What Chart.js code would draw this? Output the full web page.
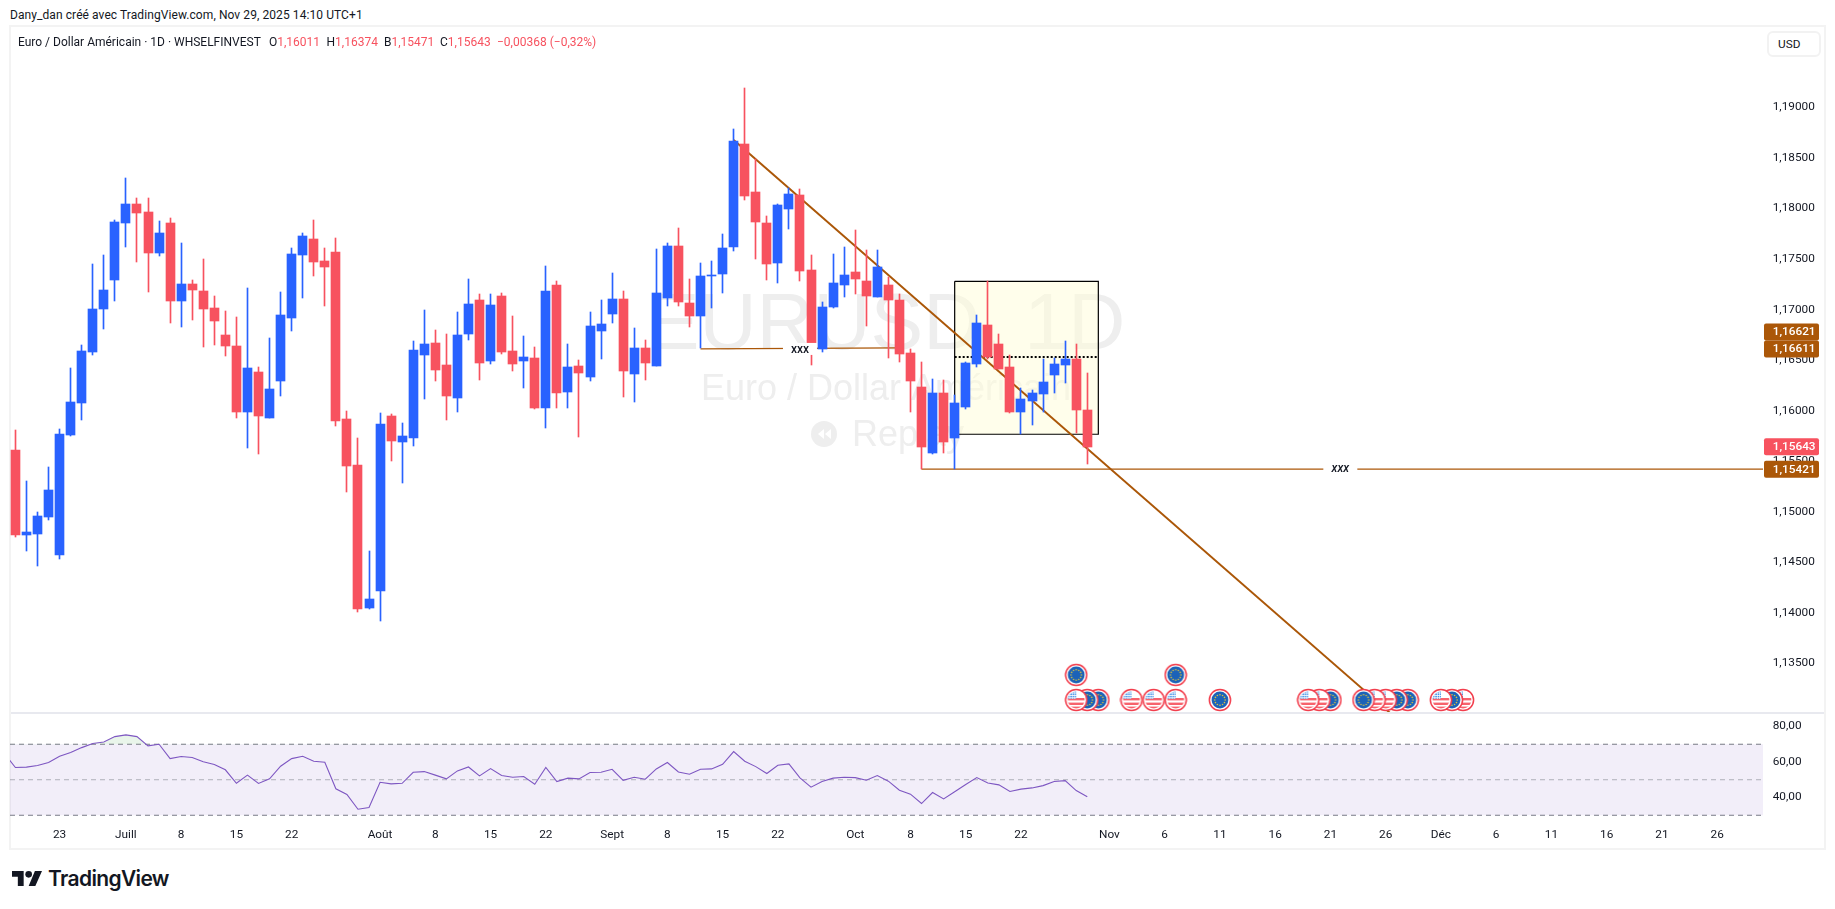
<!DOCTYPE html>
<html lang="fr">
<head>
<meta charset="utf-8">
<title>EURUSD</title>
<script src="https://cdn.jsdelivr.net/npm/chart.js@4"></script>
<style>
html,body{margin:0;padding:0;background:#fff;width:1835px;height:909px;overflow:hidden}
body{position:relative;font-family:Roboto,sans-serif;color:#131722}
canvas{position:absolute;display:block}
.t{position:absolute;white-space:pre;font-size:12px;line-height:14px}
.r{color:#f7525f}
#pane{position:absolute;left:9px;top:25px;width:1817px;height:825px;border:2px solid #f3f3f3;box-sizing:border-box}
#sep{position:absolute;left:11px;top:712px;width:1813px;height:2px;background:#e8e9ef}
#usd{position:absolute;left:1767px;top:31px;width:54px;height:26px;box-sizing:border-box;background:#fff;border:2px solid #f2f2f2;border-radius:6px;font-size:11.8px;line-height:22px;text-align:left;padding-left:9px;z-index:5}
#logo{position:absolute;left:12px;top:871px}
#brand{position:absolute;left:48px;top:866px;font:600 21px/26px Inter,sans-serif;letter-spacing:-.65px;color:#131722}
</style>
</head>
<body>
<div id="pane"></div>
<canvas id="main" width="1814" height="687" style="left:10px;top:26px"></canvas>
<canvas id="rsi" width="1814" height="135" style="left:10px;top:713px"></canvas>
<div id="sep"></div>
<div class="t" style="left:10px;top:8px;letter-spacing:.08px">Dany_dan créé avec TradingView.com, Nov 29, 2025 14:10 UTC+1</div>
<div class="t" style="left:18px;top:35px">Euro / Dollar Américain · 1D · WHSELFINVEST</div>
<div class="t" style="left:269px;top:35px">O<span class="r">1,16011</span></div>
<div class="t" style="left:326.5px;top:35px">H<span class="r">1,16374</span></div>
<div class="t" style="left:384px;top:35px">B<span class="r">1,15471</span></div>
<div class="t" style="left:440px;top:35px">C<span class="r">1,15643</span></div>
<div class="t r" style="left:497px;top:35px">−0,00368 (−0,32%)</div>
<div id="usd">USD</div>
<svg id="logo" width="30" height="15" viewBox="0 0 36 18"><path fill="#131722" d="M14 18H7V7H0V0h14v18zM28 18h-8L27.5 0H36L28 18z"/><circle fill="#131722" cx="20" cy="4" r="4"/></svg>
<div id="brand">TradingView</div>
<script>
// ---- data ----
const opens = [1.15611,1.14771,1.14781,1.14949,1.14573,1.15760,1.16076,1.16581,1.17006,1.17294,1.17857,1.18045,1.17966,1.17561,1.17857,1.17085,1.17254,1.17185,1.17016,1.16749,1.16640,1.15987,1.16383,1.15928,1.16294,1.16917,1.17541,1.17699,1.17482,1.17570,1.15918,1.15463,1.14048,1.14216,1.15948,1.15690,1.15730,1.16551,1.16670,1.16452,1.16125,1.16759,1.17095,1.16492,1.17135,1.16591,1.16492,1.16521,1.16026,1.17244,1.16185,1.16442,1.16334,1.16788,1.16957,1.17105,1.16363,1.16620,1.16442,1.17115,1.17630,1.17066,1.16937,1.17333,1.17353,1.17620,1.18639,1.18164,1.17857,1.17462,1.17996,1.18134,1.17392,1.16611,1.17026,1.17244,1.17373,1.17284,1.17125,1.17244,1.17095,1.16571,1.16234,1.15582,1.16175,1.15730,1.16036,1.16462,1.16848,1.16660,1.16432,1.15987,1.16096,1.16165,1.16353,1.16452,1.16511,1.16011];
const highs = [1.15809,1.15305,1.14998,1.15443,1.15819,1.16422,1.16650,1.17452,1.17541,1.17887,1.18303,1.18105,1.18105,1.17877,1.17907,1.17660,1.17294,1.17501,1.17135,1.16986,1.16927,1.17214,1.16432,1.16719,1.17175,1.17610,1.17758,1.17887,1.17610,1.17709,1.15997,1.15730,1.14613,1.15977,1.15967,1.15878,1.16689,1.16996,1.16798,1.16759,1.16976,1.17303,1.17155,1.17155,1.17165,1.16937,1.16739,1.16630,1.17432,1.17284,1.16660,1.16502,1.16976,1.17095,1.17363,1.17185,1.16818,1.16699,1.17600,1.17660,1.17808,1.17303,1.17462,1.17482,1.17748,1.18787,1.19193,1.18491,1.17927,1.18045,1.18204,1.18194,1.17541,1.17075,1.17551,1.17620,1.17788,1.17590,1.17590,1.17323,1.17155,1.16611,1.16482,1.16314,1.16304,1.16155,1.16482,1.16947,1.17284,1.16759,1.16551,1.16224,1.16205,1.16511,1.16521,1.16689,1.16660,1.16374];
const lows = [1.14751,1.14613,1.14464,1.14919,1.14533,1.15750,1.15908,1.16551,1.16808,1.17085,1.17620,1.17472,1.17175,1.17531,1.16867,1.16828,1.16897,1.16630,1.16650,1.16541,1.15928,1.15631,1.15572,1.15928,1.16145,1.16788,1.17115,1.17333,1.17036,1.15849,1.15196,1.14008,1.14038,1.13919,1.15502,1.15284,1.15651,1.16116,1.16294,1.15908,1.15987,1.16699,1.16304,1.16462,1.16561,1.16393,1.16224,1.16016,1.15829,1.16026,1.16026,1.15740,1.16294,1.16511,1.16867,1.16135,1.16086,1.16304,1.16442,1.17036,1.17036,1.16828,1.16620,1.17016,1.17165,1.17580,1.18085,1.17501,1.17294,1.17264,1.17798,1.17284,1.16452,1.16581,1.17016,1.17125,1.17155,1.16838,1.17125,1.16521,1.16482,1.15987,1.15423,1.15572,1.15582,1.15423,1.16016,1.16432,1.16511,1.16413,1.15977,1.15770,1.15859,1.15987,1.16175,1.16274,1.15780,1.15471];
const closes = [1.14771,1.14801,1.14959,1.15216,1.15770,1.16086,1.16591,1.17006,1.17195,1.17867,1.18045,1.17956,1.17561,1.17758,1.17085,1.17254,1.17195,1.17006,1.16887,1.16640,1.15987,1.16422,1.15948,1.16215,1.16947,1.17551,1.17729,1.17472,1.17422,1.15898,1.15453,1.14038,1.14137,1.15868,1.15700,1.15750,1.16601,1.16660,1.16403,1.16145,1.16749,1.17056,1.16472,1.17046,1.16581,1.16462,1.16531,1.16026,1.17185,1.16175,1.16432,1.16373,1.16838,1.16858,1.17105,1.16393,1.16620,1.16472,1.17165,1.17630,1.17075,1.16937,1.17333,1.17343,1.17610,1.18669,1.18125,1.17867,1.17452,1.18035,1.18144,1.17382,1.16660,1.17026,1.17264,1.17343,1.17303,1.17135,1.17422,1.17095,1.16561,1.16294,1.15641,1.16175,1.15690,1.16076,1.16472,1.16867,1.16531,1.16413,1.15987,1.16116,1.16175,1.16284,1.16462,1.16511,1.16007,1.15643];
// RSI values; first value belongs to the bar just left of the visible range
const rsiValues = [64.9,56.9,57.1,58.0,59.7,63.2,65.3,68.1,70.4,71.3,74.3,75.3,74.3,69.1,70.0,61.9,63.1,62.5,60.1,58.6,55.6,48.0,52.6,47.9,50.5,57.6,61.9,63.2,60.4,59.9,44.9,41.7,33.4,34.4,48.6,47.7,48.0,54.2,54.6,52.6,50.5,55.0,57.2,52.2,56.3,52.4,51.4,51.8,47.5,56.9,49.0,50.9,50.5,54.1,54.2,55.9,49.7,51.4,50.3,56.1,59.7,54.4,53.1,55.9,56.1,58.7,65.9,60.4,57.4,53.5,58.2,58.9,51.1,45.8,49.0,50.9,51.4,51.2,49.7,52.4,49.2,44.1,41.9,36.6,42.8,39.2,43.2,47.3,51.2,48.2,47.1,43.4,44.7,45.4,46.7,49.0,49.5,43.9,40.4];
const rsiBands = [70,50,30];
const timeTickBars = [4,10,15,20,25,33,38,43,48,54,59,64,69,76,81,86,91,99,104,109,114,119,124,129,134,139,144,149,154];
const timeTickLabels = ['23','Juill','8','15','22','Août','8','15','22','Sept','8','15','22','Oct','8','15','22','Nov','6','11','16','21','26','Déc','6','11','16','21','26'];
const priceTicks = [1.135,1.14,1.145,1.15,1.155,1.16,1.165,1.17,1.175,1.18,1.185,1.19];
const rsiTicks = [40,60,80];
// economic events (bar number, flag, row)
const eventBars = [131,130,129,126,125,124,123,122,119,118,117,109,105,103,101,98,97,96,105,96];
const eventFlags = ['US','EU','US','EU','EU','US','US','EU','EU','US','US','EU','US','US','US','EU','EU','US','EU','EU'];
const eventLevels = [1.13138,1.13138,1.13138,1.13138,1.13138,1.13138,1.13138,1.13138,1.13138,1.13138,1.13138,1.13138,1.13138,1.13138,1.13138,1.13138,1.13138,1.13138,1.13386,1.13386];
// drawings
const trendBars = [65,124.4];
const trendPrices = [1.18678,1.1301];
const leftLineBars = [62,80];
const leftLinePrices = [1.16611,1.16621];
const rightLineBars = [82,158.2];
const rightLinePrices = [1.15421,1.15421];
const boxBars = [85,98];
const boxPrices = [1.1728,1.15767];
const boxMidPrice = 1.16531;
const priceTags = [[1.16621,'1,16621','#ab5708'],[1.16611,'1,16611','#ab5708'],[1.15643,'1,15643','#f7525f'],[1.15421,'1,15421','#ab5708']];
const drawingLabels = [[71,1.16611,'xxx',false],[119.9,1.15421,'xxx',true]];

const UP='#2962ff', DOWN='#f7525f', ORANGE='#ab5708';
const X_MIN=-0.489, X_MAX=158.15;
const UIFONT='Roboto';

function flagIcon(kind){
  const c=document.createElement('canvas');c.width=24;c.height=24;
  const g=c.getContext('2d');
  g.beginPath();g.arc(12,12,10.6,0,Math.PI*2);g.fillStyle='#fff';g.fill();
  g.lineWidth=1.5;g.strokeStyle='#f23d4c';g.stroke();
  g.save();g.beginPath();g.arc(12,12,8.4,0,Math.PI*2);g.clip();
  if(kind==='EU'){
    g.fillStyle='#1b62b8';g.fillRect(0,0,24,24);
    g.fillStyle='#e3c53a';
    for(let i=0;i<12;i++){const a=i*Math.PI/6;g.beginPath();g.arc(12+5.2*Math.cos(a),12+5.2*Math.sin(a),.8,0,Math.PI*2);g.fill();}
  }else{
    g.fillStyle='#fff';g.fillRect(0,0,24,24);
    g.fillStyle='#f7626c';
    g.fillRect(0,10,24,2.4);g.fillRect(0,14.6,24,2.4);g.fillRect(0,18.6,24,3);
    g.fillStyle='#3a8ee6';g.fillRect(0,0,12,10.6);
    g.fillStyle='#fff';
    for(let x=5.5;x<12;x+=2.4)g.fillRect(x,2,.8,9);
    for(let y=4.6;y<10;y+=2.4)g.fillRect(2,y,10,.8);
  }
  g.restore();
  return c;
}
const icons={US:flagIcon('US'),EU:flagIcon('EU')};

const snapBars={id:'snapBars',beforeDatasetsDraw(chart){
  chart.data.datasets.forEach((d,i)=>{
    const meta=chart.getDatasetMeta(i);
    if(meta.type!=='bar')return;
    meta.data.forEach(el=>{el.x=Math.floor(el.x)+.5;el.y=Math.round(el.y);el.base=Math.round(el.base);});
  });
}};
const watermark={id:'watermark',beforeDatasetsDraw(chart){
  const g=chart.ctx,cx=876;g.save();
  g.fillStyle='#eeeeee';g.textAlign='center';g.textBaseline='alphabetic';
  g.font='79px "Liberation Sans"';g.fillText('EURUSD, 1D',cx,323);
  g.font='36px "Liberation Sans"';g.fillText('Euro / Dollar Américain',cx,374);
  g.textAlign='left';g.fillText('Replay',842,420);
  const x=814,y=408;g.beginPath();g.arc(x,y,13,0,Math.PI*2);g.fill();
  g.fillStyle='#fff';
  [[-6,0],[1,0]].forEach(([dx])=>{g.beginPath();g.moveTo(x+dx,y);g.lineTo(x+dx+6,y-5);g.lineTo(x+dx+6,y+5);g.closePath();g.fill();});
  g.restore();
}};
const overlays={id:'overlays',afterDatasetsDraw(chart){
  const g=chart.ctx,xs=chart.scales.x,ys=chart.scales.y;g.save();
  drawingLabels.forEach(([b,p,t,it])=>{
    const x=xs.getPixelForValue(b),y=ys.getPixelForValue(p);
    g.fillStyle='#fff';g.fillRect(x-17,y-6,34,12);
    g.fillStyle='#131722';g.font=(it?'italic ':'')+'500 12px '+UIFONT;g.textAlign='center';g.textBaseline='middle';
    g.fillText(t,x,y+(it?0:1));
  });
  const H=17,ax=chart.chartArea.right+1,W=55;
  const tags=priceTags.map(t=>({y:ys.getPixelForValue(t[0]),text:t[1],color:t[2]})).sort((a,b)=>b.y-a.y);
  tags.forEach((t,i)=>{if(i&&tags[i-1].y-t.y<H)t.y=tags[i-1].y-H;});
  tags.forEach(t=>{
    g.fillStyle=t.color;g.beginPath();g.roundRect(ax,t.y-H/2,W,H,2);g.fill();
    g.fillStyle='#fff';g.font='500 11.8px '+UIFONT;g.textAlign='left';g.textBaseline='middle';
    g.fillText(t.text,ax+8.7,t.y+.5);
  });
  g.restore();
}};

const pts=(xs,ys)=>xs.map((x,i)=>({x,y:ys[i]}));
const frenchTick=(v,d)=>v.toFixed(d).replace('.',',');
const candleColors=closes.map((c,i)=>c>=opens[i]?UP:DOWN);
const fitY=s=>{s.width=61;s.paddingTop=0;s.paddingBottom=0;};

new Chart(document.getElementById('main'),{
  type:'bar',
  data:{datasets:[
    {type:'scatter',label:'Événements',order:0,data:pts(eventBars,eventLevels),showLine:false,pointStyle:eventFlags.map(f=>icons[f]),pointRadius:11,pointHoverRadius:11},
    {label:'Corps',order:1,grouped:false,barThickness:9,data:opens.map((o,i)=>({x:i,y:[o,closes[i]]})),backgroundColor:candleColors},
    {label:'Mèches',order:2,grouped:false,barThickness:1,data:lows.map((l,i)=>({x:i,y:[l,highs[i]]})),backgroundColor:candleColors},
    {type:'line',label:'xxx gauche',order:6,data:pts(leftLineBars,leftLinePrices),borderColor:ORANGE,borderWidth:1.2,pointRadius:0},
    {type:'line',label:'xxx droite',order:6,data:pts(rightLineBars,rightLinePrices),borderColor:ORANGE,borderWidth:1.2,pointRadius:0},
    {type:'line',label:'Tendance',order:7,data:pts(trendBars,trendPrices),borderColor:ORANGE,borderWidth:2,pointRadius:0},
    {type:'line',label:'Milieu',order:8,data:pts(boxBars,[boxMidPrice,boxMidPrice]),borderColor:'#000',borderWidth:2,borderDash:[2,2],pointRadius:0},
    {type:'line',label:'Cadre',order:9,data:pts([boxBars[0],boxBars[1],boxBars[1],boxBars[0],boxBars[0]],[boxPrices[0],boxPrices[0],boxPrices[1],boxPrices[1],boxPrices[0]]),borderColor:'#000',borderWidth:1.2,pointRadius:0},
    {type:'line',label:'Fond',order:10,data:pts(boxBars,[boxPrices[0],boxPrices[0]]),borderWidth:0,pointRadius:0,fill:{target:{value:boxPrices[1]}},backgroundColor:'rgba(255,253,215,.5)'}
  ]},
  options:{
    responsive:false,animation:false,events:[],
    layout:{padding:0,autoPadding:false},
    plugins:{legend:{display:false},tooltip:{enabled:false}},
    scales:{
      x:{type:'linear',min:X_MIN,max:X_MAX,offset:false,display:false,grid:{display:false}},
      y:{type:'linear',position:'right',min:1.13009,max:1.19806,
        grid:{display:false,drawTicks:false},border:{display:false},
        afterFit:fitY,
        afterBuildTicks:s=>{s.ticks=priceTicks.map(value=>({value}));},
        ticks:{padding:9.7,color:'#131722',font:{family:UIFONT,size:11.8},callback:v=>frenchTick(v,5)}}
    }
  },
  plugins:[watermark,snapBars,overlays]
});

new Chart(document.getElementById('rsi'),{
  type:'line',
  data:{datasets:[
    {label:'RSI',order:0,data:rsiValues.map((v,i)=>({x:i-1,y:v})),borderColor:'#7e57c2',borderWidth:1.1,pointRadius:0,tension:0,
      fill:{target:{value:70},above:'rgba(76,175,80,.12)',below:'rgba(0,0,0,0)'}},
    {label:'Bande',order:3,data:pts([X_MIN,X_MAX],[rsiBands[0],rsiBands[0]]),borderWidth:0,pointRadius:0,fill:{target:{value:rsiBands[2]}},backgroundColor:'rgba(126,87,194,.1)'},
    {label:'70',order:2,data:pts([X_MIN,X_MAX],[rsiBands[0],rsiBands[0]]),borderColor:'#787b86',borderWidth:1,borderDash:[5,4],pointRadius:0},
    {label:'50',order:2,data:pts([X_MIN,X_MAX],[rsiBands[1],rsiBands[1]]),borderColor:'rgba(120,123,134,.55)',borderWidth:1,borderDash:[5,4],pointRadius:0},
    {label:'30',order:2,data:pts([X_MIN,X_MAX],[rsiBands[2],rsiBands[2]]),borderColor:'#787b86',borderWidth:1,borderDash:[5,4],pointRadius:0}
  ]},
  options:{
    responsive:false,animation:false,events:[],
    layout:{padding:0,autoPadding:false},
    plugins:{legend:{display:false},tooltip:{enabled:false}},
    scales:{
      x:{type:'linear',min:X_MIN,max:X_MAX,grid:{display:false,drawTicks:false},border:{display:false},
        afterFit:s=>{s.height=26;s.paddingLeft=0;s.paddingRight=0;},
        afterBuildTicks:s=>{s.ticks=timeTickBars.map(value=>({value}));},
        ticks:{padding:6,maxRotation:0,autoSkip:false,color:'#131722',font:{family:UIFONT,size:11.8},
          callback:v=>timeTickLabels[timeTickBars.indexOf(v)]}},
      y:{type:'linear',position:'right',min:26.2,max:87.6,
        grid:{display:false,drawTicks:false},border:{display:false},
        afterFit:fitY,
        afterBuildTicks:s=>{s.ticks=rsiTicks.map(value=>({value}));},
        ticks:{padding:9.7,color:'#131722',font:{family:UIFONT,size:11.8},callback:v=>frenchTick(v,2)}}
    }
  }
});
</script>
</body>
</html>
